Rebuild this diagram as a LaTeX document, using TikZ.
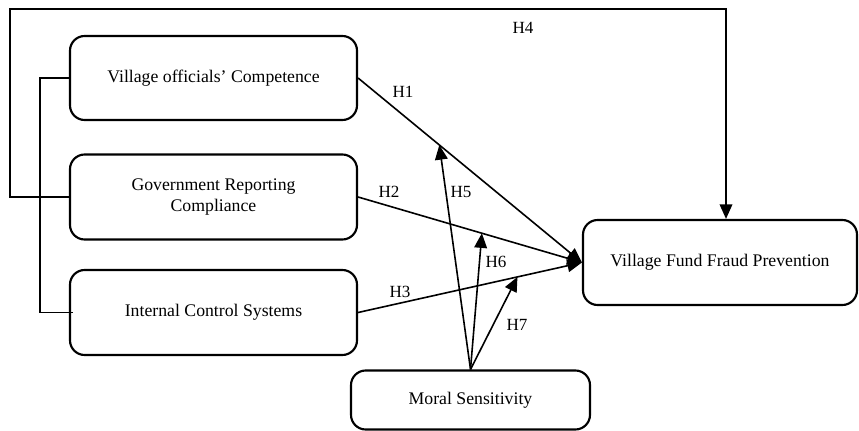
\documentclass[tikz,border=0pt]{standalone}
\usepackage{fontspec}
\setmainfont{Liberation Serif}
\usetikzlibrary{arrows.meta}
\begin{document}
\begin{tikzpicture}[x=0.75pt,y=-0.75pt,
  box/.style={draw,line width=1.6pt,rounded corners=11pt,align=center,
    font=\fontsize{13.3}{15.5}\selectfont,inner sep=0pt},
  conn/.style={line width=1.2pt},
  arr/.style={conn,-{Triangle[length=11pt,width=9.5pt]}},
  lab/.style={font=\fontsize{12.8}{15}\selectfont,inner sep=0pt}]
\useasboundingbox (0,0) rectangle (859,431);
\node[box,minimum width=287*0.75pt,minimum height=84*0.75pt] (A) at (213.5,78) {Village officials' Competence};
\node[box,minimum width=287*0.75pt,minimum height=85*0.75pt] (B) at (213.5,197) {Government Reporting\\Compliance};
\node[box,minimum width=287*0.75pt,minimum height=85*0.75pt] (C) at (213.5,312.5) {Internal Control Systems};
\node[box,minimum width=239*0.75pt,minimum height=59*0.75pt] (M) at (470.5,400) {Moral Sensitivity};
\node[box,minimum width=274*0.75pt,minimum height=85*0.75pt] (V) at (720,262.5) {Village Fund Fraud Prevention};
% main paths
\draw[arr] (A.east) -- (V.west) coordinate[pos=0.363] (p5);
\draw[arr] (B.east) -- (V.west) coordinate[pos=0.553] (p6);
\draw[arr] (C.east) -- (V.west) coordinate[pos=0.712] (p7);
% moderating arrows
\draw[arr] (M.north) -- (p5);
\draw[arr] (M.north) -- (p6);
\draw[arr] (M.north) -- (p7);
% H4
\coordinate (c1) at (10,9);
\coordinate (c2) at (726,9);
\draw[arr] (B.west) -| (c1) -- (c2) -- (c2 |- V.north);
% bracket
\coordinate (k) at (40,0);
\draw[conn] (A.west) -- (A.west -| k) -- (C.west -| k) -- ([xshift=3]C.west);
% labels
\node[lab] (h1) at (403,92) {H1};
\node[lab] (h2) at (389,192) {H2};
\node[lab] (h3) at (400,292) {H3};
\node[lab] (h4) at (523,28) {H4};
\node[lab] (h5) at (461,192) {H5};
\node[lab] (h6) at (496,262) {H6};
\node[lab] (h7) at (517,325) {H7};
\end{tikzpicture}
\end{document}
